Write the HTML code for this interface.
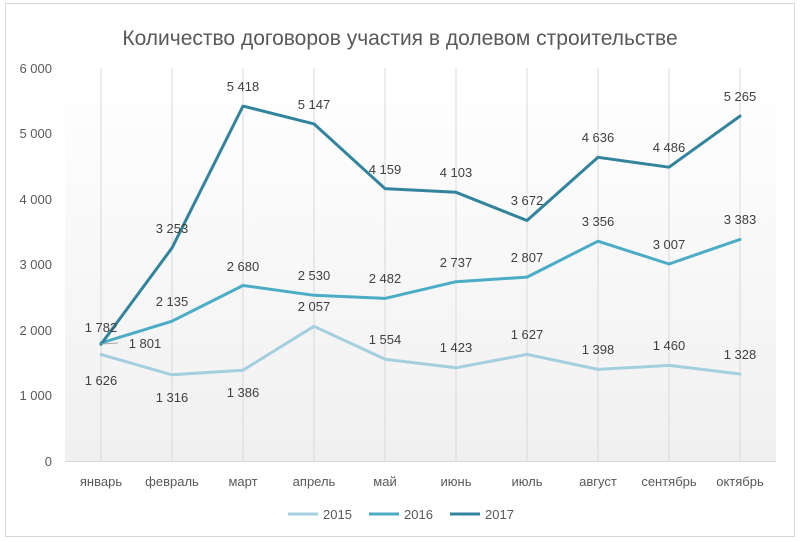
<!DOCTYPE html>
<html><head><meta charset="utf-8"><style>
body{margin:0;background:#fff;}
svg{display:block;font-family:"Liberation Sans","DejaVu Sans",sans-serif;}
</style></head><body>
<svg width="800" height="542" viewBox="0 0 800 542" xmlns="http://www.w3.org/2000/svg">
<defs><linearGradient id="g" x1="0" y1="0" x2="0" y2="1"><stop offset="0" stop-color="#ffffff"/><stop offset="1" stop-color="#f0f0f0"/></linearGradient></defs>
<rect x="5.5" y="3.5" width="789" height="533" fill="#fff" stroke="#d9d9d9"/>
<rect x="65" y="68" width="711" height="393" fill="url(#g)"/>
<text x="400" y="45" text-anchor="middle" font-size="21" fill="#595959">Количество договоров участия в долевом строительстве</text>
<g stroke="#d9d9d9" stroke-width="1">
<line x1="101" y1="68" x2="101" y2="461"/><line x1="172" y1="68" x2="172" y2="461"/><line x1="243" y1="68" x2="243" y2="461"/><line x1="314" y1="68" x2="314" y2="461"/><line x1="385" y1="68" x2="385" y2="461"/><line x1="456" y1="68" x2="456" y2="461"/><line x1="527" y1="68" x2="527" y2="461"/><line x1="598" y1="68" x2="598" y2="461"/><line x1="669" y1="68" x2="669" y2="461"/><line x1="740" y1="68" x2="740" y2="461"/>
<line x1="65" y1="461.5" x2="776" y2="461.5"/>
</g>
<g font-size="13" fill="#595959" text-anchor="end">
<text x="52" y="466">0</text><text x="52" y="400">1 000</text><text x="52" y="335">2 000</text><text x="52" y="269">3 000</text><text x="52" y="204">4 000</text><text x="52" y="138">5 000</text><text x="52" y="73">6 000</text>
</g>
<g font-size="13" fill="#595959" text-anchor="middle">
<text x="101" y="486">январь</text><text x="172" y="486">февраль</text><text x="243" y="486">март</text><text x="314" y="486">апрель</text><text x="385" y="486">май</text><text x="456" y="486">июнь</text><text x="527" y="486">июль</text><text x="598" y="486">август</text><text x="669" y="486">сентябрь</text><text x="740" y="486">октябрь</text>
</g>
<g fill="none" stroke-width="3" stroke-linejoin="round" stroke-linecap="round">
<polyline stroke="#a4cfdf" points="101,354.5 172,374.8 243,370.2 314,326.3 385,359.2 456,367.8 527,354.4 598,369.4 669,365.4 740,374.0"/>
<polyline stroke="#4bacc6" points="101,343.0 172,321.2 243,285.5 314,295.3 385,298.4 456,281.7 527,277.1 598,241.2 669,264.0 740,239.4"/>
<polyline stroke="#31849b" points="101,344.3 172,247.9 243,106.1 314,123.9 385,188.6 456,192.3 527,220.5 598,157.3 669,167.2 740,116.1"/>
</g>
<line x1="101" y1="344" x2="118" y2="343" stroke="#a6a6a6"/>
<g font-size="13" fill="#404040" text-anchor="middle">
<text x="101" y="385">1 626</text><text x="172" y="402">1 316</text><text x="243" y="397">1 386</text><text x="314" y="311">2 057</text><text x="385" y="344">1 554</text><text x="456" y="352">1 423</text><text x="527" y="339">1 627</text><text x="598" y="354">1 398</text><text x="669" y="350">1 460</text><text x="740" y="359">1 328</text>
<text x="145" y="348">1 801</text><text x="172" y="306">2 135</text><text x="243" y="271">2 680</text><text x="314" y="280">2 530</text><text x="385" y="283">2 482</text><text x="456" y="267">2 737</text><text x="527" y="262">2 807</text><text x="598" y="226">3 356</text><text x="669" y="249">3 007</text><text x="740" y="224">3 383</text>
<text x="101" y="332">1 782</text><text x="172" y="233">3 253</text><text x="243" y="91">5 418</text><text x="314" y="109">5 147</text><text x="385" y="174">4 159</text><text x="456" y="177">4 103</text><text x="527" y="205">3 672</text><text x="598" y="142">4 636</text><text x="669" y="152">4 486</text><text x="740" y="101">5 265</text>
</g>
<g font-size="13" fill="#595959">
<line x1="288" y1="514" x2="318" y2="514" stroke="#a4cfdf" stroke-width="3"/><text x="323" y="519">2015</text>
<line x1="369" y1="514" x2="399" y2="514" stroke="#4bacc6" stroke-width="3"/><text x="404" y="519">2016</text>
<line x1="450" y1="514" x2="480" y2="514" stroke="#31849b" stroke-width="3"/><text x="485" y="519">2017</text>
</g>
</svg>
</body></html>
